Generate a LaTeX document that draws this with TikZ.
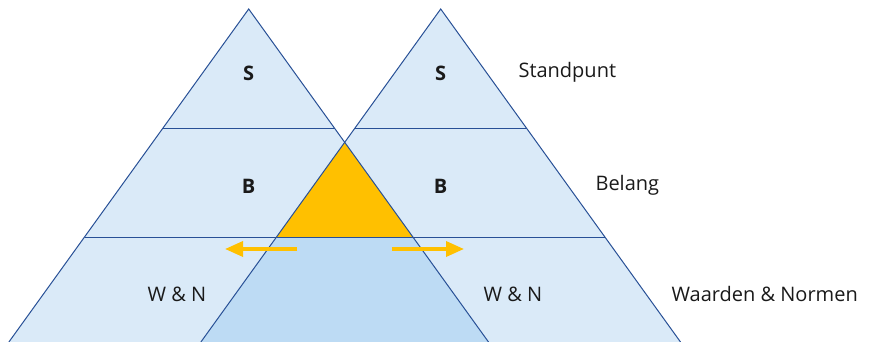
\documentclass[tikz,border=0pt]{standalone}
\usepackage{fontspec}
\setmainfont{Open Sans}
\usepackage{xcolor}
\usepackage{tikz}
\usetikzlibrary{arrows.meta, positioning, calc}

\definecolor{paleblue}{RGB}{218,234,248}
\definecolor{midblue}{RGB}{189,219,244}
\definecolor{edgeblue}{RGB}{40,80,150}
\definecolor{gold}{RGB}{255,192,0}
\definecolor{ink}{RGB}{26,26,26}

\begin{document}
\begin{tikzpicture}[
    x=1pt, y=-1pt,
    edge/.style={draw=edgeblue, line width=1pt},
    letter/.style={font=\fontsize{20}{22}\selectfont\bfseries, text=ink},
    tag/.style={font=\fontsize{20}{22}\selectfont, text=ink},
    pusharrow/.style={-{Triangle[length=18pt, width=15pt]}, line width=3.5pt, draw=gold}
  ]
    \useasboundingbox (0,0) rectangle (870,342);
    \clip (0,0) rectangle (870,342);

    % Apexes and crossing point
    \coordinate (lapex) at (248.7,9);
    \coordinate (rapex) at (440.7,9);
    \coordinate (cross) at (344.7,142.3);

    % Triangles
    \fill[paleblue] (lapex) -- (8.9,342) -- (488.5,342) -- cycle;
    \fill[paleblue] (rapex) -- (200.9,342) -- (680.5,342) -- cycle;

    % Overlap
    \fill[midblue] (276.5,237) -- (412.9,237) -- (488.5,342) -- (200.9,342) -- cycle;
    \fill[gold] (cross) -- (412.9,237) -- (276.5,237) -- cycle;

    % Outlines
    \draw[edge] (8.9,342) -- (lapex) -- (488.5,342);
    \draw[edge] (200.9,342) -- (rapex) -- (680.5,342);
    \draw[edge] (162.3,129) -- (335.1,129);
    \draw[edge] (354.3,129) -- (527.1,129);
    \draw[edge] (84.5,237) -- (604.9,237);

    % Arrows
    \coordinate (lstart) at (297,249);
    \coordinate (lend) at (225,249);
    \coordinate (rstart) at (392,249);
    \coordinate (rend) at (464,249);
    \draw[pusharrow] (lstart) -- (lend);
    \draw[pusharrow] (rstart) -- (rend);

    % Layer letters
    \node[letter] (ls) at (248.7,73) {S};
    \node[letter] (rs) at (440.7,73) {S};
    \node[letter] (lb) at (248.7,186) {B};
    \node[letter] (rb) at (440.7,186) {B};
    \node[tag] (lwn) at (177,294) {W \& N};
    \node[tag] (rwn) at (513,294) {W \& N};

    % Layer names
    \node[tag, anchor=west] (standpunt) at (515,72) {Standpunt};
    \node[tag, anchor=west] (belang) at (592,185) {Belang};
    \node[tag, anchor=west] (waarden) at (668,294) {Waarden \& Normen};

  \end{tikzpicture}
\end{document}
